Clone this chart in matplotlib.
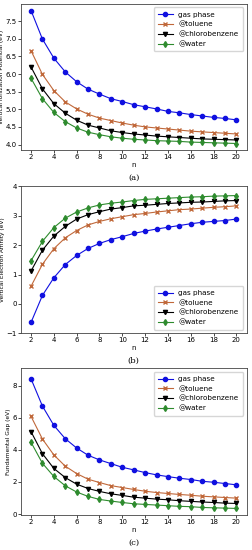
import numpy as np
import matplotlib
matplotlib.use('Agg')
import matplotlib.pyplot as plt

n = np.arange(2, 21)
labels = ['gas phase', '@toluene', '@chlorobenzene', '@water']

# (a) vertical ionization potential
ip_gas = [7.80, 6.99, 6.45, 6.06, 5.78, 5.57, 5.43, 5.30, 5.22, 5.13, 5.07, 5.01, 4.94, 4.90, 4.85, 4.81, 4.77, 4.74, 4.70]
ip_tol = [6.66, 5.99, 5.53, 5.21, 5.01, 4.86, 4.75, 4.68, 4.61, 4.55, 4.50, 4.47, 4.44, 4.41, 4.38, 4.36, 4.34, 4.32, 4.30]
ip_clb = [6.20, 5.58, 5.16, 4.89, 4.69, 4.55, 4.47, 4.39, 4.34, 4.30, 4.27, 4.24, 4.22, 4.20, 4.18, 4.16, 4.15, 4.14, 4.13]
ip_wat = [5.88, 5.30, 4.91, 4.65, 4.47, 4.35, 4.28, 4.22, 4.18, 4.15, 4.13, 4.11, 4.10, 4.09, 4.07, 4.06, 4.05, 4.04, 4.03]

# (b) vertical electron affinity
ea_gas = [-0.63, 0.29, 0.89, 1.34, 1.65, 1.89, 2.06, 2.19, 2.29, 2.40, 2.48, 2.55, 2.61, 2.67, 2.73, 2.78, 2.81, 2.84, 2.89]
ea_tol = [0.60, 1.35, 1.88, 2.25, 2.50, 2.69, 2.81, 2.90, 2.97, 3.04, 3.08, 3.13, 3.17, 3.21, 3.23, 3.26, 3.29, 3.31, 3.34]
ea_clb = [1.12, 1.83, 2.31, 2.64, 2.89, 3.04, 3.14, 3.23, 3.28, 3.34, 3.36, 3.39, 3.42, 3.44, 3.46, 3.47, 3.49, 3.51, 3.52]
ea_wat = [1.47, 2.13, 2.60, 2.92, 3.13, 3.27, 3.37, 3.43, 3.47, 3.52, 3.56, 3.58, 3.60, 3.62, 3.64, 3.65, 3.67, 3.68, 3.69]

# (c) fundamental gap
gap_gas = [8.42, 6.72, 5.52, 4.69, 4.11, 3.66, 3.37, 3.14, 2.91, 2.75, 2.58, 2.44, 2.33, 2.23, 2.15, 2.04, 1.98, 1.90, 1.82]
gap_tol = [6.08, 4.67, 3.68, 2.98, 2.52, 2.17, 1.96, 1.77, 1.65, 1.53, 1.42, 1.34, 1.28, 1.22, 1.17, 1.11, 1.07, 1.03, 0.99]
gap_clb = [5.13, 3.76, 2.84, 2.27, 1.86, 1.59, 1.41, 1.26, 1.16, 1.05, 0.99, 0.93, 0.89, 0.83, 0.79, 0.75, 0.72, 0.68, 0.66]
gap_wat = [4.47, 3.16, 2.34, 1.76, 1.37, 1.10, 0.91, 0.81, 0.72, 0.64, 0.60, 0.56, 0.52, 0.48, 0.46, 0.41, 0.39, 0.37, 0.35]

colors = ['#1010e0', '#c0683a', 'black', '#2e8b2e']
markers = ['o', 'x', 'v', 'd']

fig = plt.figure(figsize=(2.53, 5.5), dpi=100)

panels = [
    ([ip_gas, ip_tol, ip_clb, ip_wat], 'Vertical Ionization Potential (eV)', '(a)', [0.082, 0.727, 0.893, 0.266], 'upper right', None),
    ([ea_gas, ea_tol, ea_clb, ea_wat], 'Vertical Electron Affinity (eV)', '(b)', [0.082, 0.394, 0.893, 0.267], 'lower right', (-1, 4)),
    ([gap_gas, gap_tol, gap_clb, gap_wat], 'Fundamental Gap (eV)', '(c)', [0.082, 0.0636, 0.893, 0.267], 'upper right', (-0.06, 9.08)),
]

for series, ylabel, cap, pos, loc, ylim in panels:
    ax = fig.add_axes(pos)
    for y, c, m, lab in zip(series, colors, markers, labels):
        ax.plot(n, y, color=c, marker=m, markersize=3, linewidth=0.8, label=lab)
    ax.set_xticks(np.arange(2, 21, 2))
    if ylim is not None:
        ax.set_ylim(*ylim)
    ax.set_ylabel(ylabel, fontsize=4.2, labelpad=1)
    ax.set_xlabel('n', fontsize=5, labelpad=1)
    ax.tick_params(labelsize=5, length=2, pad=1, width=0.5)
    for s in ax.spines.values():
        s.set_linewidth(0.6)
        s.set_color('#444444')
    ax.legend(loc=loc, fontsize=5.2, handlelength=2, borderpad=0.6, labelspacing=0.45)
    fig.text(pos[0] + pos[2] / 2, pos[1] - 0.05, cap, ha='center', va='center',
             fontsize=6, family='DejaVu Serif')

fig.savefig('out.png', dpi=100)
